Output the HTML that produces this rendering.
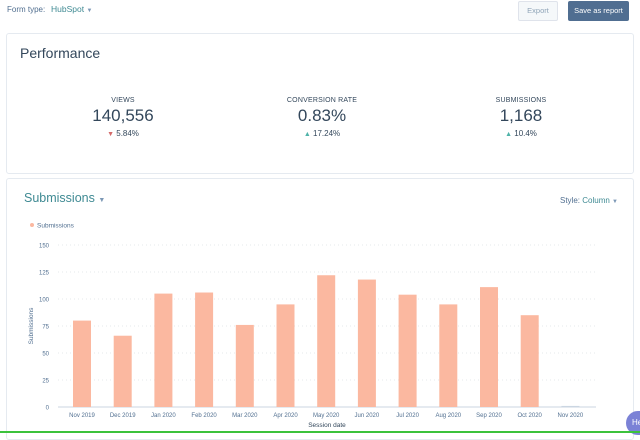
<!DOCTYPE html>
<html><head><meta charset="utf-8"><style>
body{margin:0;width:640px;height:433px;overflow:hidden;background:#fff;font-family:"Liberation Sans",sans-serif;color:#33475b;position:relative}
.abs{position:absolute}
.card{position:absolute;background:#fff;border:1px solid #e5eaf0;border-radius:3px}
.teal{color:#3f8a93}
.kpi{position:absolute;text-align:center;width:160px}
.kpi .l{font-size:7px;letter-spacing:.2px}
.kpi .v{font-size:17px;font-weight:300;margin-top:2px}
.kpi .d{font-size:8px;margin-top:3px}
</style></head><body>
<div class="abs" style="left:7px;top:5px;font-size:8px;color:#516f90">Form type:</div>
<div class="abs teal" style="left:51px;top:4px;font-size:8.5px">HubSpot <span style="font-size:6px;color:#7c98b6">▼</span></div>
<div class="abs" style="left:518px;top:1px;width:38px;height:18px;background:#f5f8fa;border:1px solid #dfe3eb;border-radius:2px;font-size:7.5px;color:#8fa4b8;text-align:center;line-height:18px">Export</div>
<div class="abs" style="left:568px;top:1px;width:61px;height:20px;background:#506e91;border-radius:2px;font-size:7.5px;color:#fff;text-align:center;line-height:20px">Save as report</div>

<div class="card" style="left:6px;top:33px;width:626px;height:139px"></div>
<div class="abs" style="left:20px;top:45px;font-size:14px;font-weight:300">Performance</div>
<div class="kpi" style="left:43px;top:97px"><div class="l">VIEWS</div><div class="v">140,556</div><div class="d"><span style="color:#d46a6a;font-size:7px">▼</span> 5.84%</div></div>
<div class="kpi" style="left:242px;top:97px"><div class="l">CONVERSION RATE</div><div class="v">0.83%</div><div class="d"><span style="color:#4fb3a9;font-size:7px">▲</span> 17.24%</div></div>
<div class="kpi" style="left:441px;top:97px"><div class="l">SUBMISSIONS</div><div class="v">1,168</div><div class="d"><span style="color:#4fb3a9;font-size:7px">▲</span> 10.4%</div></div>

<div class="card" style="left:6px;top:178px;width:626px;height:260px"></div>
<div class="abs teal" style="left:24px;top:191px;font-size:12.5px">Submissions <span style="font-size:7px;color:#7c98b6">▼</span></div>
<div class="abs" style="left:560px;top:196px;font-size:8px;color:#516f90">Style: <span class="teal">Column</span> <span style="font-size:6px;color:#7c98b6">▼</span></div>

<svg class="abs" style="left:0;top:0" width="640" height="433" id="chart"></svg>
<div class="abs" style="left:626px;top:411px;width:30px;height:24px;border-radius:12px;background:#7b82d6;color:#fff;font-size:8px;line-height:24px;padding-left:6px">He</div>
<div class="abs" style="left:0;top:431px;width:640px;height:2px;background:#3cc23c"></div>
<script>
const categories=["Nov 2019","Dec 2019","Jan 2020","Feb 2020","Mar 2020","Apr 2020","May 2020","Jun 2020","Jul 2020","Aug 2020","Sep 2020","Oct 2020","Nov 2020"];
const values=[80,66,105,106,76,95,122,118,104,95,111,85,1];
const ticks=[0,25,50,75,100,125,150];
const svg=document.getElementById('chart');const NS='http://www.w3.org/2000/svg';
const y0=407,y1=245,vmax=150;
const y=v=>y0-(v/vmax)*(y0-y1);
const x=i=>82+i*40.7;
function mk(t,a,txt){const e=document.createElementNS(NS,t);for(const k in a)e.setAttribute(k,a[k]);if(txt!=null)e.textContent=txt;svg.appendChild(e);return e;}
ticks.forEach(t=>{
 const g=mk('line',{x1:58,x2:596,y1:y(t),y2:y(t),stroke:t?'#e5e8eb':'#cbd6e2','stroke-dasharray':t?'1,3':'none'});
 
 
 const l=mk('text',{x:49,y:y(t)+2.5,'font-size':6,'text-anchor':'end',fill:'#516f90'},t);
 
 
});
categories.forEach((c,i)=>{
 const h=Math.max(y0-y(values[i]),0.8);
 const b=mk('rect',{x:x(i)-9,y:y0-h,width:18,height:h,fill:i===12?'#cbd6e2':'#fbb8a0'});
 
 
 const l=mk('text',{x:x(i),y:417,'font-size':6,'text-anchor':'middle',fill:'#516f90'},c);
 
 
});
const xt=mk('text',{x:327,y:427,'font-size':6.5,'text-anchor':'middle',fill:'#33475b'},'Session date');


const yt=mk('text',{x:0,y:0,'font-size':6.5,'text-anchor':'middle',fill:'#516f90',transform:'translate(33,326) rotate(-90)'},'Submissions');


const ld=mk('circle',{cx:32,cy:225,r:2,fill:'#fbb8a0'});


const lt=mk('text',{x:37,y:227.5,'font-size':6.5,fill:'#516f90'},'Submissions');


</script>
</body></html>
